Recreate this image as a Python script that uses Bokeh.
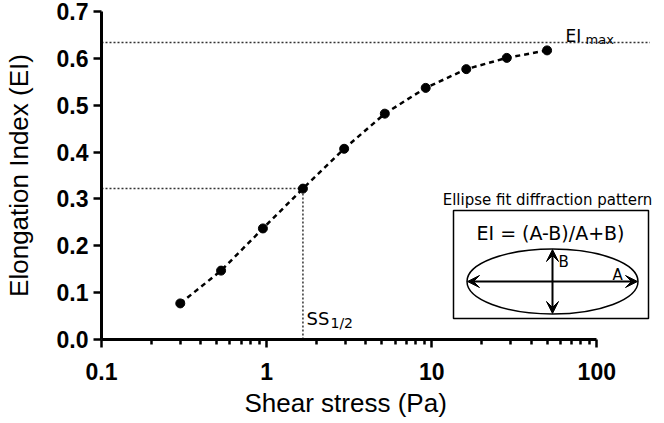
from bokeh.plotting import figure
from bokeh.models import (FixedTicker, Range1d, LinearScale, Label, Arrow, VeeHead,
                          ColumnDataSource, Title)
from bokeh.embed import file_html
from bokeh.resources import INLINE

# ---- data ----
shear_stress = [0.30, 0.53, 0.95, 1.66, 2.95, 5.2, 9.2, 16.2, 28.5, 50.0]
elongation_index = [0.077, 0.147, 0.237, 0.322, 0.407, 0.482, 0.537, 0.577, 0.601, 0.617]
ei_max = 0.634
ss_half_index = 3  # point at half of EI max
x_major_ticks = [0.1, 1, 10, 100]
x_minor_ticks = [m * d for d in (0.1, 1, 10) for m in range(2, 10)]
y_ticks = [0.0, 0.1, 0.2, 0.3, 0.4, 0.5, 0.6, 0.7]

X_END = 230
ref_line_end = 210
p = figure(frame_width=555, frame_height=328, x_axis_type="log",
           x_range=Range1d(0.1, X_END), y_range=Range1d(0, 0.7),
           output_backend="svg", toolbar_location=None,
           min_border_left=101, min_border_right=6, min_border_top=11, min_border_bottom=76)
p.outline_line_color = None
p.grid.visible = False
p.background_fill_color = "white"

# pixel-like coordinate system for the inset decoration (page pixels)
p.extra_x_ranges = {"px": Range1d(101, 656)}
p.extra_y_ranges = {"px": Range1d(339, 11)}
p.extra_x_scales = {"px": LinearScale()}
p.extra_y_scales = {"px": LinearScale()}

# ---- axes ----
xa = p.xaxis[0]
xa.ticker = FixedTicker(ticks=x_major_ticks, minor_ticks=x_minor_ticks)
xa.major_label_overrides = {0.1: "0.1", 1: "1", 10: "10", 100: "100"}
xa.bounds = (0.1, 100)
ya = p.yaxis[0]
ya.ticker = FixedTicker(ticks=y_ticks)
ya.major_label_overrides = {v: f"{v:.1f}" for v in y_ticks}

for ax in (xa, ya):
    ax.axis_line_width = 3
    ax.axis_line_color = "black"
    ax.major_tick_line_width = 2.5
    ax.minor_tick_line_width = 2.5
    ax.major_tick_line_color = "black"
    ax.minor_tick_line_color = "black" if ax is xa else None
    ax.major_tick_in = 0
    ax.major_tick_out = 8
    ax.minor_tick_in = 0
    ax.minor_tick_out = 5
    ax.major_label_text_font = "Liberation Sans"
    ax.major_label_text_font_style = "bold"
    ax.major_label_text_font_size = "23px"
    ax.major_label_text_color = "black"
    ax.axis_label_text_font = "Liberation Sans"
    ax.axis_label_text_font_style = "normal"
    ax.axis_label_text_font_size = "26px"
    ax.axis_label_text_color = "black"

xa.major_label_standoff = 15
ya.axis_label = "Elongation Index (EI)"
ya.major_label_standoff = 5
ya.axis_label_standoff = 20

# x-axis title, centred under the axis line (0.1 .. 100) as in the original
p.add_layout(Title(text="Shear stress (Pa)", align="left", offset=143, standoff=7,
                   text_font="Liberation Sans", text_font_size="26px",
                   text_font_style="normal", text_color="black"), "below")

# ---- reference lines ----
ref = dict(line_color="#333333", line_width=1.5, line_dash="2 2")
p.line([0.1, ref_line_end], [ei_max, ei_max], **ref)
xs_h, ys_h = shear_stress[ss_half_index], elongation_index[ss_half_index]
p.line([0.1, xs_h], [ys_h, ys_h], **ref)
p.line([xs_h, xs_h], [0, ys_h], **ref)

# ---- data ----
src = ColumnDataSource(dict(x=shear_stress, y=elongation_index))
p.line("x", "y", source=src, line_color="black", line_width=2.5, line_dash="5 4")
p.scatter("x", "y", source=src, size=9, color="black")

# ---- labels ----
lab = dict(x_range_name="px", y_range_name="px", text_font="DejaVu Sans", text_color="black")
p.add_layout(Label(x=565, y=35, text="EI", text_font_size="17px",
                   text_baseline="alphabetic", **lab))
p.add_layout(Label(x=585, y=39, text="max", text_font_size="13px",
                   text_baseline="alphabetic", **lab))
p.add_layout(Label(x=306, y=318, text="SS", text_font_size="18px",
                   text_baseline="alphabetic", **lab))
p.add_layout(Label(x=330, y=322, text="1/2", text_font_size="14px",
                   text_baseline="alphabetic", **lab))

# ---- inset ----
p.quad(left=453, right=648, top=210, bottom=318, x_range_name="px", y_range_name="px",
       fill_color="white", line_color="black", line_width=1.5)
p.ellipse(x=[552], y=[281], width=171, height=65, width_units="screen", height_units="screen",
          x_range_name="px", y_range_name="px", fill_color=None, line_color="black",
          line_width=1.5)
p.add_layout(Label(x=547, y=199, text="Ellipse fit diffraction pattern",
                   text_font_size="15px", text_align="center", text_baseline="middle", **lab))
p.add_layout(Label(x=550, y=232, text="EI = (A-B)/A+B)",
                   text_font_size="19px", text_align="center", text_baseline="middle", **lab))
p.add_layout(Label(x=558, y=261, text="B", text_font_size="15px",
                   text_baseline="middle", **lab))
p.add_layout(Label(x=612, y=274, text="A", text_font_size="15px",
                   text_baseline="middle", **lab))
head = dict(size=12, fill_color="black", line_color="black", line_width=1)
p.add_layout(Arrow(x_start=467, y_start=281, x_end=637, y_end=281,
                   start=VeeHead(**head), end=VeeHead(**head), line_width=2,
                   x_range_name="px", y_range_name="px"))
p.add_layout(Arrow(x_start=552, y_start=249, x_end=552, y_end=313,
                   start=VeeHead(**head), end=VeeHead(**head), line_width=2,
                   x_range_name="px", y_range_name="px"))

open("out.html", "w").write(file_html(p, INLINE))
